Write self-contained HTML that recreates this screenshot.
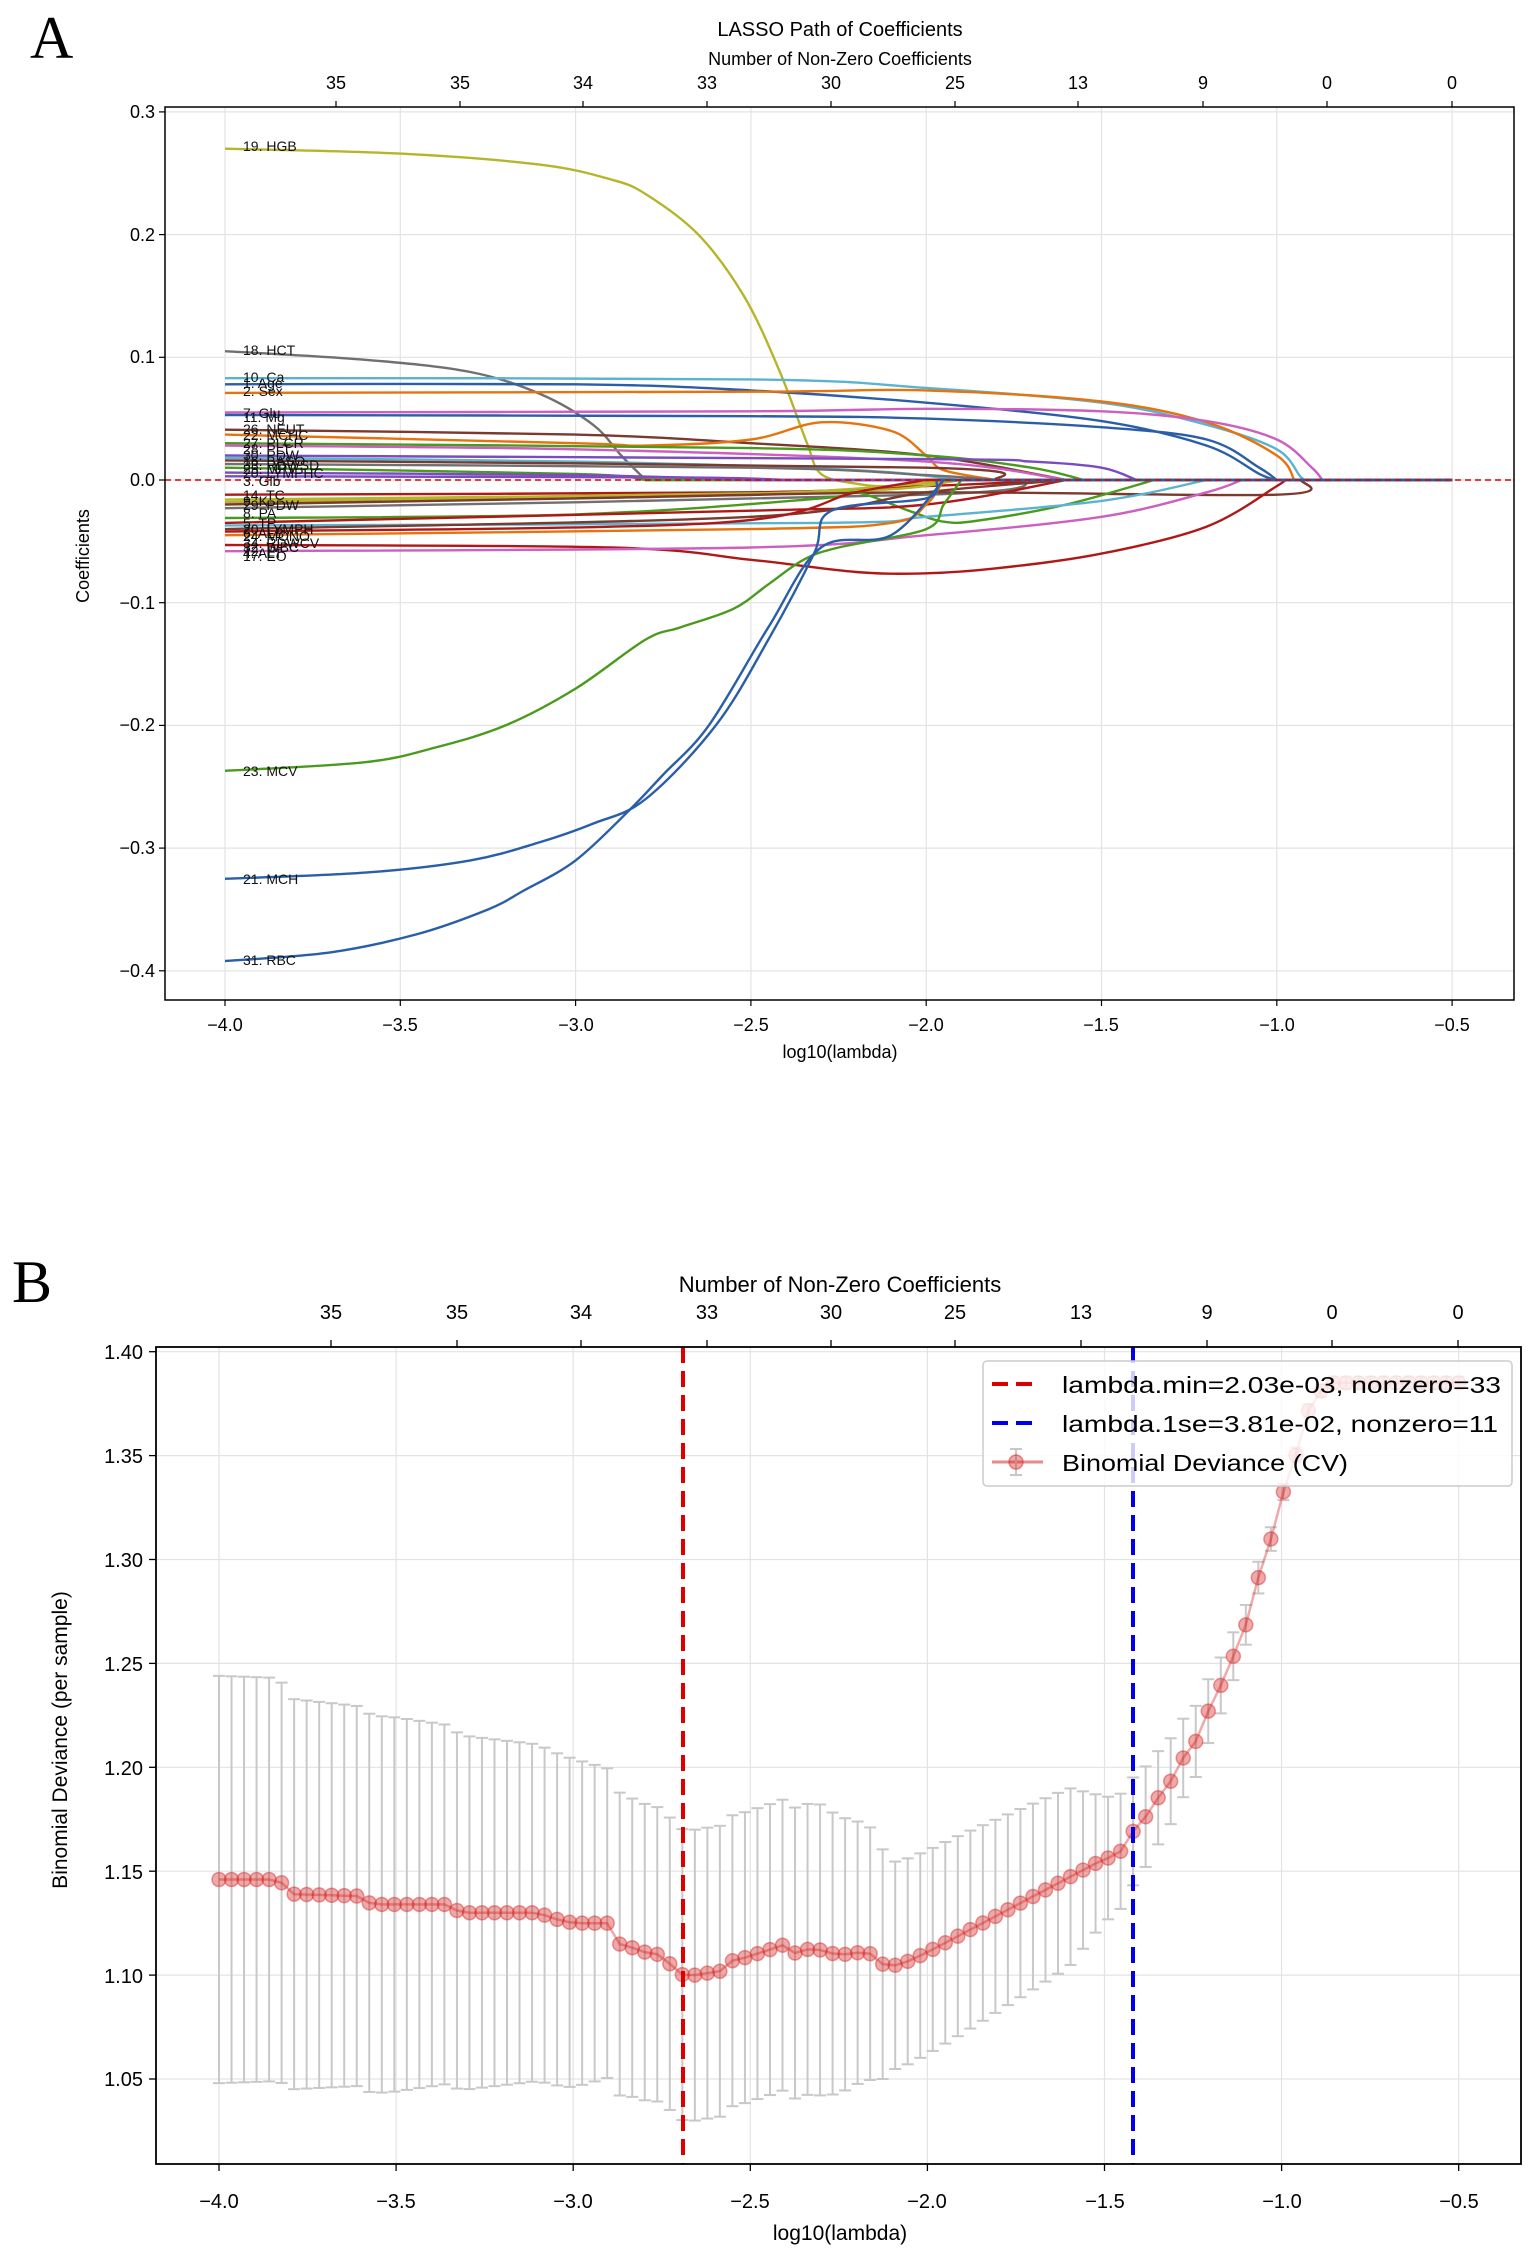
<!DOCTYPE html>
<html><head><meta charset="utf-8">
<style>
html,body{margin:0;padding:0;background:#fff;}
svg{display:block;font-family:"Liberation Sans","DejaVu Sans",sans-serif;}
</style></head>
<body>
<svg id="s" width="1539" height="2252" viewBox="0 0 1539 2252" xmlns="http://www.w3.org/2000/svg">
<rect width="1539" height="2252" fill="#fff"/>
<g id="gA"></g>
<g id="gB"></g>
<!-- Panel A text -->
<text x="30" y="58" font-family="Liberation Serif,serif" font-size="60">A</text>
<text x="840" y="36" font-size="20" text-anchor="middle">LASSO Path of Coefficients</text>
<text x="840" y="65" font-size="18" text-anchor="middle">Number of Non-Zero Coefficients</text>
<g font-size="18" text-anchor="middle">
<text x="336" y="89">35</text><text x="460" y="89">35</text><text x="583" y="89">34</text><text x="707" y="89">33</text><text x="831" y="89">30</text><text x="955" y="89">25</text><text x="1078" y="89">13</text><text x="1203" y="89">9</text><text x="1327" y="89">0</text><text x="1452" y="89">0</text>
</g>
<g font-size="18" text-anchor="end">
<text x="155" y="118">0.3</text><text x="155" y="241">0.2</text><text x="155" y="363">0.1</text><text x="155" y="486">0.0</text><text x="155" y="609">−0.1</text><text x="155" y="731">−0.2</text><text x="155" y="854">−0.3</text><text x="155" y="977">−0.4</text>
</g>
<g font-size="18" text-anchor="middle">
<text x="225" y="1031">−4.0</text><text x="400" y="1031">−3.5</text><text x="576" y="1031">−3.0</text><text x="751" y="1031">−2.5</text><text x="926" y="1031">−2.0</text><text x="1101" y="1031">−1.5</text><text x="1277" y="1031">−1.0</text><text x="1452" y="1031">−0.5</text>
</g>
<text x="840" y="1058" font-size="18" text-anchor="middle">log10(lambda)</text>
<text transform="translate(89,556) rotate(-90)" font-size="18" text-anchor="middle">Coefficients</text>
<g font-size="14" fill="#111">
<text x="243" y="151">19. HGB</text>
<text x="243" y="355">18. HCT</text>
<text x="243" y="382">10. Ca</text>
<text x="243" y="388">1. Age</text>
<text x="243" y="396">2. Sex</text>
<text x="243" y="418">7. Glu</text>
<text x="243" y="422">11. Mg</text>
<text x="243" y="434">26. NEUT</text>
<text x="243" y="440">22. MCHC</text>
<text x="243" y="448">27. PLCR</text>
<text x="243" y="454">28. PLT</text>
<text x="243" y="460">30. PDW</text>
<text x="243" y="466">16. BASO</text>
<text x="243" y="470">33. RDWSD</text>
<text x="243" y="474">25. MPV</text>
<text x="243" y="478">20. LYMPHC</text>
<text x="243" y="486">3. Glb</text>
<text x="243" y="500">14. TC</text>
<text x="243" y="506">9. K</text>
<text x="243" y="510">29. PDW</text>
<text x="243" y="518">8. PA</text>
<text x="243" y="528">5. TP</text>
<text x="243" y="534">20. LYMPH</text>
<text x="243" y="538">6. ALB</text>
<text x="243" y="541">24. MONO</text>
<text x="243" y="548">34. RDWCV</text>
<text x="243" y="552">32. WBC</text>
<text x="243" y="558">4. ALT</text>
<text x="243" y="556">12. P</text>
<text x="243" y="561">17. EO</text>
<text x="243" y="776">23. MCV</text>
<text x="243" y="884">21. MCH</text>
<text x="243" y="965">31. RBC</text>
</g>
<!-- Panel B text -->
<text x="12" y="1302" font-family="Liberation Serif,serif" font-size="60">B</text>
<text x="840" y="1292" font-size="22" text-anchor="middle">Number of Non-Zero Coefficients</text>
<g font-size="20" text-anchor="middle">
<text x="331" y="1319">35</text><text x="457" y="1319">35</text><text x="581" y="1319">34</text><text x="707" y="1319">33</text><text x="831" y="1319">30</text><text x="955" y="1319">25</text><text x="1081" y="1319">13</text><text x="1207" y="1319">9</text><text x="1332" y="1319">0</text><text x="1458" y="1319">0</text>
</g>
<g font-size="20" text-anchor="end">
<text x="143" y="1359">1.40</text><text x="143" y="1463">1.35</text><text x="143" y="1567">1.30</text><text x="143" y="1671">1.25</text><text x="143" y="1775">1.20</text><text x="143" y="1879">1.15</text><text x="143" y="1983">1.10</text><text x="143" y="2086">1.05</text>
</g>
<g font-size="20" text-anchor="middle">
<text x="219" y="2208">−4.0</text><text x="396" y="2208">−3.5</text><text x="573" y="2208">−3.0</text><text x="750" y="2208">−2.5</text><text x="927" y="2208">−2.0</text><text x="1105" y="2208">−1.5</text><text x="1282" y="2208">−1.0</text><text x="1459" y="2208">−0.5</text>
</g>
<text x="840" y="2240" font-size="21" text-anchor="middle">log10(lambda)</text>
<text transform="translate(67,1740) rotate(-90)" font-size="21" text-anchor="middle">Binomial Deviance (per sample)</text>
<g id="leg">
<rect x="983" y="1361" width="529" height="125" rx="4" fill="#fff" fill-opacity="0.8" stroke="#ccc" stroke-width="1.5"/>
<line x1="992" y1="1384" x2="1038" y2="1384" stroke="#dd0000" stroke-width="4" stroke-dasharray="16,8"/>
<line x1="992" y1="1423" x2="1038" y2="1423" stroke="#0000ee" stroke-width="4" stroke-dasharray="16,8"/>
<line x1="992" y1="1462" x2="1043" y2="1462" stroke="#e88a8a" stroke-width="3"/>
<line x1="1016" y1="1449" x2="1016" y2="1475" stroke="#c8c8c8" stroke-width="2"/>
<line x1="1010" y1="1449" x2="1022" y2="1449" stroke="#c8c8c8" stroke-width="2"/>
<line x1="1010" y1="1475" x2="1022" y2="1475" stroke="#c8c8c8" stroke-width="2"/>
<circle cx="1016" cy="1462" r="7" fill="rgba(214,39,40,0.4)" stroke="rgba(214,39,40,0.5)" stroke-width="1.5"/>
<text x="1062" y="1393" font-size="23" textLength="439" lengthAdjust="spacingAndGlyphs">lambda.min=2.03e-03, nonzero=33</text>
<text x="1062" y="1432" font-size="23" textLength="436" lengthAdjust="spacingAndGlyphs">lambda.1se=3.81e-02, nonzero=11</text>
<text x="1062" y="1471" font-size="23" textLength="286" lengthAdjust="spacingAndGlyphs">Binomial Deviance (CV)</text>
</g>
</svg>
<script>
var NS="http://www.w3.org/2000/svg";
function el(p,t,a){var e=document.createElementNS(NS,t);for(var k in a)e.setAttribute(k,a[k]);p.appendChild(e);return e;}
function smooth(P){var d='M'+P[0][0].toFixed(1)+','+P[0][1].toFixed(1);
for(var i=0;i<P.length-1;i++){var p0=P[i>0?i-1:0],p1=P[i],p2=P[i+1],p3=P[i+2<P.length?i+2:i+1];
var c1x=p1[0]+(p2[0]-p0[0])/6,c1y=p1[1]+(p2[1]-p0[1])/6,c2x=p2[0]-(p3[0]-p1[0])/6,c2y=p2[1]-(p3[1]-p1[1])/6;
d+='C'+c1x.toFixed(1)+','+c1y.toFixed(1)+' '+c2x.toFixed(1)+','+c2y.toFixed(1)+' '+p2[0].toFixed(1)+','+p2[1].toFixed(1);}return d;}
// Panel A
var gA=document.getElementById('gA');
function XA(x){return 225+(x+4)*350.6;} function YA(y){return 480-y*1227;}
[-4,-3.5,-3,-2.5,-2,-1.5,-1,-0.5].forEach(function(x){el(gA,'line',{x1:XA(x),x2:XA(x),y1:107,y2:1000,stroke:'#e3e3e3','stroke-width':1.2});});
[0.3,0.2,0.1,0,-0.1,-0.2,-0.3,-0.4].forEach(function(y){el(gA,'line',{x1:165,x2:1514,y1:YA(y),y2:YA(y),stroke:'#e3e3e3','stroke-width':1.2});});
var C={ol:'#b5b52a',gr:'#707070',cy:'#5ab4d0',bl:'#2a5ea8',or:'#e8720c',pk:'#cc5fc0',br:'#7a3a2e',gn:'#4a9a1e',rd:'#b01818',pu:'#7a4cc0'};
var curves=[
['ol',[[-4,.27],[-3.5,.266],[-3.1,.257],[-2.9,.245],[-2.8,.233],[-2.65,.2],[-2.52,.15],[-2.42,.09],[-2.34,.03],[-2.3,.005],[-2.2,-.003],[-2.1,-.005],[-1.9,0]]],
['gr',[[-4,.105],[-3.6,.098],[-3.3,.088],[-3.1,.07],[-2.95,.045],[-2.87,.02],[-2.8,0]]],
['cy',[[-4,.083],[-2.5,.082],[-2,.075],[-1.5,.063],[-1.2,.045],[-1,.025],[-0.93,.002],[-0.9,0]]],
['bl',[[-4,.078],[-3,.078],[-2.5,.073],[-2,.063],[-1.5,.048],[-1.2,.028],[-1.05,.005],[-1,0]]],
['or',[[-4,.071],[-2.5,.072],[-2,.073],[-1.5,.064],[-1.2,.047],[-1,.02],[-0.95,0]]],
['pk',[[-4,.055],[-2.5,.056],[-2,.058],[-1.5,.056],[-1.2,.048],[-1,.033],[-0.9,.01],[-0.87,0]]],
['bl',[[-4,.053],[-2.5,.052],[-2,.05],[-1.5,.043],[-1.2,.033],[-1.05,.01],[-1,0]]],
['br',[[-4,.041],[-3,.037],[-2.5,.03],[-2,.02],[-1.6,0]]],
['or',[[-4,.037],[-3,.03],[-2.8,.028],[-2.5,.033],[-2.3,.047],[-2.1,.04],[-2,.02],[-1.95,.008],[-1.8,0]]],
['gn',[[-4,.03],[-2.5,.026],[-2,.02],[-1.7,.01],[-1.55,0]]],
['pk',[[-4,.028],[-3,.025],[-2,.015],[-1.6,0]]],
['pu',[[-4,.02],[-2,.017],[-1.7,.015],[-1.5,.01],[-1.4,0]]],
['cy',[[-4,.018],[-3,.015],[-2.2,.008],[-1.9,0]]],
['br',[[-4,.016],[-2,.01],[-1.8,0]]],
['gr',[[-4,.013],[-2.5,.01],[-2,.004],[-1.8,0]]],
['gn',[[-4,.01],[-3,.005],[-2.8,0]]],
['pu',[[-4,.006],[-3,.004],[-2.5,0]]],
['pu',[[-4,.003],[-2.7,.002],[-2.4,0]]],
['rd',[[-4,-.012],[-2.5,-.01],[-2,-.005],[-1.6,0]]],
['ol',[[-4,-.016],[-2.3,-.01],[-1.9,0]]],
['ol',[[-4,-.018],[-2.6,-.012],[-2.1,-.005],[-1.95,0]]],
['gr',[[-4,-.023],[-2,-.012],[-1.7,0]]],
['br',[[-4,-.02],[-3,-.015],[-2,-.01],[-1,-.012],[-0.93,0]]],
['gn',[[-4,-.031],[-3,-.028],[-2.3,-.015],[-2.2,-.01],[-2.05,-.025],[-1.95,-.034],[-1.85,-.033],[-1.6,-.02],[-1.35,0]]],
['rd',[[-4,-.035],[-2.5,-.025],[-2,-.02],[-1.6,0]]],
['cy',[[-4,-.037],[-2.3,-.035],[-2,-.03],[-1.5,-.017],[-1.2,0]]],
['br',[[-4,-.04],[-2.5,-.03],[-2,-.01],[-1.6,0]]],
['rd',[[-4,-.042],[-2.6,-.035],[-2.2,-.01],[-2,0]]],
['or',[[-4,-.045],[-2.5,-.04],[-2.1,-.035],[-2,-.02],[-1.95,0]]],
['rd',[[-4,-.053],[-2.9,-.055],[-2.5,-.065],[-2.2,-.075],[-2,-.076],[-1.8,-.072],[-1.5,-.06],[-1.2,-.038],[-1,-.005],[-0.98,0]]],
['pk',[[-4,-.058],[-2.5,-.055],[-2,-.045],[-1.5,-.03],[-1.2,-.01],[-1.1,0]]],
['gn',[[-4,-.237],[-3.6,-.23],[-3.4,-.218],[-3.2,-.2],[-3,-.17],[-2.8,-.13],[-2.7,-.12],[-2.55,-.105],[-2.45,-.085],[-2.35,-.065],[-2.25,-.055],[-2,-.04],[-1.95,-.02],[-1.9,0]]],
['bl',[[-4,-.325],[-3.6,-.32],[-3.3,-.31],[-3.1,-.295],[-2.95,-.28],[-2.8,-.26],[-2.6,-.2],[-2.45,-.13],[-2.32,-.06],[-2.27,-.025],[-2,-.015],[-1.97,0]]],
['bl',[[-4,-.392],[-3.7,-.385],[-3.45,-.37],[-3.25,-.35],[-3.15,-.335],[-3,-.31],[-2.85,-.27],[-2.75,-.24],[-2.62,-.2],[-2.45,-.12],[-2.3,-.055],[-2.1,-.045],[-1.95,0]]]
];
curves.forEach(function(c){var pts=c[1].slice();var last=pts[pts.length-1];
var P=pts.map(function(p){return [XA(p[0]),YA(p[1])];});
var d=smooth(P);if(last[0]<-0.5)d+='L'+XA(-0.5).toFixed(1)+','+YA(0).toFixed(1);
el(gA,'path',{d:d,fill:'none',stroke:C[c[0]],'stroke-width':2.4,'stroke-linejoin':'round'});});
el(gA,'line',{x1:165,x2:1514,y1:YA(0),y2:YA(0),stroke:'#e00000','stroke-width':1.5,'stroke-dasharray':'6,4'});
el(gA,'rect',{x:165,y:107,width:1349,height:893,fill:'none',stroke:'#000','stroke-width':1.5});
[-4,-3.5,-3,-2.5,-2,-1.5,-1,-0.5].forEach(function(x){el(gA,'line',{x1:XA(x),x2:XA(x),y1:1000,y2:1006,stroke:'#000','stroke-width':1.2});});
[0.3,0.2,0.1,0,-0.1,-0.2,-0.3,-0.4].forEach(function(y){el(gA,'line',{x1:159,x2:165,y1:YA(y),y2:YA(y),stroke:'#000','stroke-width':1.2});});
[336,460,583,707,831,955,1078,1203,1327,1452].forEach(function(x){el(gA,'line',{x1:x,x2:x,y1:101,y2:107,stroke:'#000','stroke-width':1.2});});
// Panel B
var gB=document.getElementById('gB');
function XB(x){return 219+(x+4)*354.2;} function YB(y){return 2079-(y-1.05)*2078;}
[-4,-3.5,-3,-2.5,-2,-1.5,-1,-0.5].forEach(function(x){el(gB,'line',{x1:XB(x),x2:XB(x),y1:1347,y2:2164,stroke:'#e3e3e3','stroke-width':1.2});});
[1.4,1.35,1.3,1.25,1.2,1.15,1.1,1.05].forEach(function(y){el(gB,'line',{x1:156,x2:1521,y1:YB(y),y2:YB(y),stroke:'#e3e3e3','stroke-width':1.2});});
function interp(k,x){if(x<=k[0][0])return k[0][1];for(var i=1;i<k.length;i++){if(x<=k[i][0]){var t=(x-k[i-1][0])/(k[i][0]-k[i-1][0]);return k[i-1][1]+t*(k[i][1]-k[i-1][1]);}}return k[k.length-1][1];}
var M=[[-4,1.146],[-3.83,1.146],[-3.8,1.139],[-3.6,1.138],[-3.57,1.134],[-3.35,1.134],[-3.32,1.130],[-3.1,1.130],[-3.05,1.127],[-3.0,1.125],[-2.9,1.125],[-2.87,1.115],[-2.83,1.113],[-2.78,1.110],[-2.75,1.110],[-2.72,1.104],[-2.69,1.100],[-2.65,1.100],[-2.62,1.101],[-2.58,1.102],[-2.55,1.107],[-2.5,1.109],[-2.47,1.111],[-2.43,1.113],[-2.4,1.115],[-2.37,1.110],[-2.33,1.113],[-2.3,1.112],[-2.26,1.110],[-2.22,1.110],[-2.19,1.111],[-2.15,1.110],[-2.12,1.104],[-2.08,1.105],[-2.05,1.107],[-2.0,1.111],[-1.5,1.156],[-1.47,1.157],[-1.44,1.162],[-1.42,1.169],[-1.38,1.177],[-1.35,1.185],[-1.31,1.194],[-1.28,1.204],[-1.24,1.213],[-1.21,1.226],[-1.17,1.240],[-1.13,1.256],[-1.1,1.269],[-1.07,1.289],[-1.03,1.310],[-1.0,1.330],[-0.96,1.350],[-0.93,1.370],[-0.89,1.381],[-0.86,1.385],[-0.5,1.385]];
var E=[[-4,.098],[-3.83,.097],[-3.8,.094],[-3.5,.09],[-3.3,.085],[-3.0,.079],[-2.85,.072],[-2.7,.07],[-2.3,.07],[-2.15,.06],[-2.1,.05],[-1.9,.048],[-1.6,.043],[-1.5,.03],[-1.3,.02],[-1.2,.015],[-1.0,.004],[-0.9,.003],[-0.5,.003]];
var N=100,xs=[],ms=[];for(var i=0;i<N;i++){var x=-4+3.5*i/(N-1);xs.push(x);ms.push(interp(M,x));}
for(var i=0;i<N;i++){var e=interp(E,xs[i]),px=XB(xs[i]),y1=YB(ms[i]+e),y2=YB(ms[i]-e);
el(gB,'line',{x1:px,x2:px,y1:y1,y2:y2,stroke:'#c8c8c8','stroke-width':2});
el(gB,'line',{x1:px-6,x2:px+6,y1:y1,y2:y1,stroke:'#c8c8c8','stroke-width':2});
el(gB,'line',{x1:px-6,x2:px+6,y1:y2,y2:y2,stroke:'#c8c8c8','stroke-width':2});}
el(gB,'path',{d:'M'+xs.map(function(x,i){return XB(x).toFixed(1)+','+YB(ms[i]).toFixed(1);}).join('L'),fill:'none',stroke:'rgba(214,39,40,0.4)','stroke-width':2.5});
for(var i=0;i<N;i++){el(gB,'circle',{cx:XB(xs[i]),cy:YB(ms[i]),r:7,fill:'rgba(214,39,40,0.4)',stroke:'rgba(214,39,40,0.45)','stroke-width':1.5});}
el(gB,'line',{x1:683,x2:683,y1:1347,y2:2164,stroke:'#dd0000','stroke-width':4,'stroke-dasharray':'16,8'});
el(gB,'line',{x1:1133,x2:1133,y1:1347,y2:2164,stroke:'#0000ee','stroke-width':4,'stroke-dasharray':'16,8'});
el(gB,'rect',{x:156,y:1347,width:1365,height:817,fill:'none',stroke:'#000','stroke-width':1.8});
[-4,-3.5,-3,-2.5,-2,-1.5,-1,-0.5].forEach(function(x){el(gB,'line',{x1:XB(x),x2:XB(x),y1:2164,y2:2171,stroke:'#000','stroke-width':1.3});});
[1.4,1.35,1.3,1.25,1.2,1.15,1.1,1.05].forEach(function(y){el(gB,'line',{x1:149,x2:156,y1:YB(y),y2:YB(y),stroke:'#000','stroke-width':1.3});});
[331,457,581,707,831,955,1081,1207,1332,1458].forEach(function(x){el(gB,'line',{x1:x,x2:x,y1:1340,y2:1347,stroke:'#000','stroke-width':1.3});});
var s=document.getElementById('s');s.appendChild(document.getElementById('leg'));
</script>
</body></html>
